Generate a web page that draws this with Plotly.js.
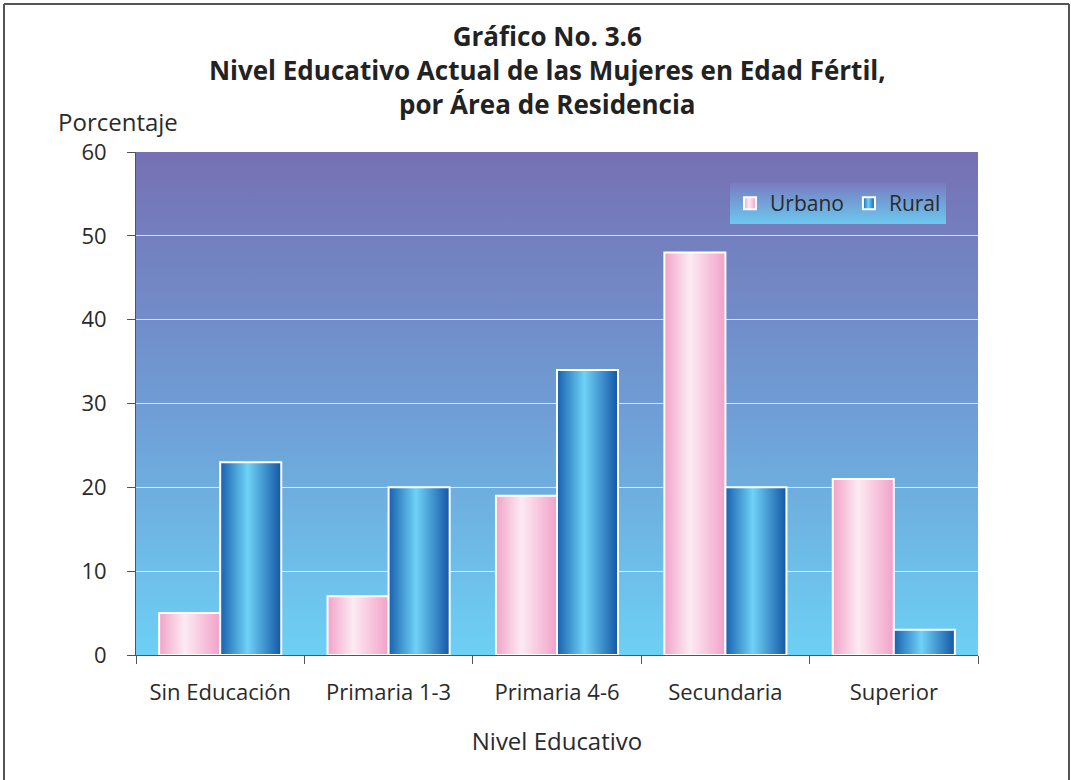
<!DOCTYPE html>
<html>
<head>
<meta charset="utf-8">
<script src="https://cdn.plot.ly/plotly-3.0.1.min.js"></script>
<style>
  html, body { margin: 0; padding: 0; background: #fff; }
  #chart { width: 1071px; height: 780px; }
</style>
</head>
<body>
<div id="chart"></div>
<script>
const categories = ["Sin Educación", "Primaria 1-3", "Primaria 4-6", "Secundaria", "Superior"];
const urbano = [5, 7, 19, 48, 21];
const rural = [23, 20, 34, 20, 3];
const yTicks = [0, 10, 20, 30, 40, 50, 60];

const FONT = "Open Sans, Lato, DejaVu Sans, sans-serif";
const W = 1071, H = 780;
const M = { l: 136, r: 93, t: 152, b: 125 };
const pw = W - M.l - M.r, ph = H - M.t - M.b;
const px = v => (v - M.l) / pw;          // pixel x -> paper x
const py = v => (H - M.b - v) / ph;      // pixel y -> paper y

const traces = [
  { type: "bar", name: "Urbano", x: categories, y: urbano,
    marker: { color: "#f6c4dc", line: { color: "#ffffff", width: 2 } } },
  { type: "bar", name: "Rural", x: categories, y: rural,
    marker: { color: "#3a8ed0", line: { color: "#ffffff", width: 2 } } }
];

const layout = {
  width: W, height: H,
  margin: M,
  paper_bgcolor: "#ffffff",
  plot_bgcolor: "#6f9cd4",
  font: { family: FONT, color: "#2a2a2a", size: 22 },
  title: {
    text: "<b>Gráfico No. 3.6<br>Nivel Educativo Actual de las Mujeres en Edad Fértil,<br>por Área de Residencia</b>",
    font: { family: FONT, size: 26, color: "#222" },
    x: 0.511, xanchor: "center", xref: "container",
    y: 0.941, yanchor: "top", yref: "container"
  },
  barmode: "group",
  bargap: 0.275,
  bargroupgap: 0,
  xaxis: {
    type: "category",
    showline: true, linecolor: "#555", linewidth: 1,
    ticks: "outside", tickson: "boundaries", ticklen: 8, tickcolor: "#555", tickwidth: 1,
    ticklabelstandoff: 18,
    tickfont: { family: FONT, size: 22, color: "#2a2a2a" },
    title: { text: "Nivel Educativo", font: { family: FONT, size: 24, color: "#2a2a2a" }, standoff: 27 },
    showgrid: false, zeroline: false
  },
  yaxis: {
    range: [0, 60],
    tickvals: yTicks,
    showline: true, linecolor: "#555", linewidth: 1,
    ticks: "outside", ticklen: 8, tickcolor: "#555", tickwidth: 1,
    ticklabelstandoff: 16,
    tickfont: { family: FONT, size: 22, color: "#2a2a2a" },
    showgrid: true, gridcolor: "rgba(255,255,255,0.75)", gridwidth: 1,
    zeroline: false
  },
  legend: {
    orientation: "h",
    x: px(730), y: py(183), xanchor: "left", yanchor: "top",
    bgcolor: "#7398d0",
    font: { family: FONT, size: 21, color: "#2a2a2a" },
    itemwidth: 30,
    tracegroupgap: 0
  },
  annotations: [
    { text: "Porcentaje", xref: "paper", yref: "paper", x: px(118), y: py(122),
      xanchor: "center", yanchor: "middle", showarrow: false,
      font: { family: FONT, size: 24, color: "#2a2a2a" } }
  ],
  shapes: [
    { type: "line", xref: "paper", yref: "paper", x0: px(4), x1: px(1069), y0: py(4), y1: py(4),
      line: { color: "#555", width: 2 } },
    { type: "line", xref: "paper", yref: "paper", x0: px(4), x1: px(4), y0: py(4), y1: py(782),
      line: { color: "#555", width: 2 } },
    { type: "line", xref: "paper", yref: "paper", x0: px(1069), x1: px(1069), y0: py(4), y1: py(782),
      line: { color: "#555", width: 2 } }
  ]
};

function addGradients(gd) {
  const NS = "http://www.w3.org/2000/svg";
  const svg = gd.querySelector(".main-svg");
  const defs = document.createElementNS(NS, "defs");
  svg.insertBefore(defs, svg.firstChild);
  function grad(id, vertical, stops) {
    const g = document.createElementNS(NS, "linearGradient");
    g.setAttribute("id", id);
    g.setAttribute("x1", "0"); g.setAttribute("y1", "0");
    g.setAttribute("x2", vertical ? "0" : "1"); g.setAttribute("y2", vertical ? "1" : "0");
    stops.forEach(s => {
      const st = document.createElementNS(NS, "stop");
      st.setAttribute("offset", s[0]);
      st.setAttribute("stop-color", s[1]);
      g.appendChild(st);
    });
    defs.appendChild(g);
  }
  grad("gU", false, [[0, "#f2a3c9"], [0.42, "#fcebf3"], [1, "#f2a1c8"]]);
  grad("gR", false, [[0, "#1860ae"], [0.45, "#6fd2f6"], [1, "#1356a6"]]);
  grad("gBg", true, [[0, "#7670b4"], [0.5, "#6f9cd4"], [1, "#6dd0f4"]]);
  grad("gLeg", true, [[0, "#787cc0"], [1, "#6cc8f0"]]);

  const bg = gd.querySelector(".bglayer rect.bg");
  if (bg) bg.style.fill = "url(#gBg)";
  const ids = ["url(#gU)", "url(#gR)"];
  gd.querySelectorAll(".barlayer .trace").forEach((t, i) => {
    t.querySelectorAll(".point path").forEach(p => { p.style.fill = ids[i]; });
  });
  gd.querySelectorAll(".legend .traces").forEach((t, i) => {
    t.querySelectorAll(".legendpoints path").forEach(p => { p.style.fill = ids[i]; });
  });
  const lbg = gd.querySelector(".legend rect.bg");
  if (lbg) lbg.style.fill = "url(#gLeg)";
}

Plotly.newPlot("chart", traces, layout, { staticPlot: true, displayModeBar: false })
  .then(addGradients);
</script>
</body>
</html>
